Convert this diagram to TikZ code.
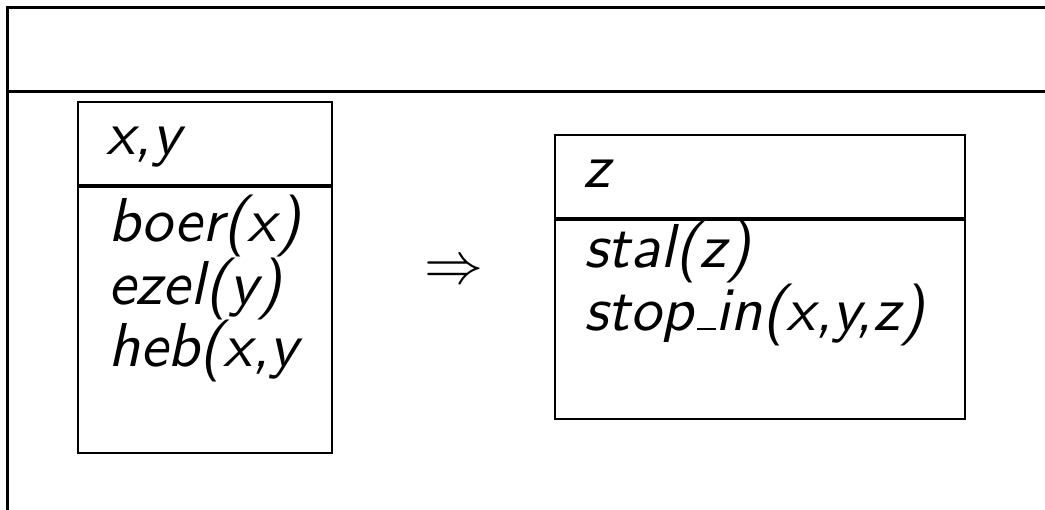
\documentclass[tikz,border=0pt]{standalone}
\usepackage{tikz}
\usetikzlibrary{positioning}
% thin low rule in place of the underscore glyph
\newcommand{\drsus}{\leavevmode\kern.06em\vbox{\hrule width.3em}}
\tikzset{
  drs frame/.style={line width=3pt},
  drs box/.style={
    draw,
    line width=2pt,
    inner sep=0pt,
    anchor=north west
  },
  drs text/.style={
    font=\sffamily\itshape,
    scale=6.2,
    transform shape,
    anchor=base west,
    inner sep=0pt
  }
}

\begin{document}
\begin{tikzpicture}[x=1pt,y=-1pt]
  \useasboundingbox (0,0) rectangle (1045,510);
  \clip (0,0) rectangle (1045,510);

  % Outer frame with its universe row
  \draw[drs frame] (7,8) rectangle (1080,540);
  \draw[drs frame] (7,92) -- (1080,92);

  % Antecedent box
  \node[drs box, minimum width=254pt, minimum height=83pt] (lhead) at (77,101) {};
  \node[drs box, minimum width=254pt, minimum height=266pt] (lbody) at (lhead.south west) {};
  \node[drs text] (lref) at (105,155) {x,y};
  \node[drs text] (boer) at (107,242) {boer(x)};
  \node[drs text] (ezel) at ([yshift=-62.5pt]boer.base west) {ezel(y)};
  \node[drs text] (heb) at ([yshift=-62.5pt]ezel.base west) {heb(x,y};

  % Implication
  \node[scale=5.9, inner sep=0pt] (impl) at (453.5,273) {$\Rightarrow$};

  % Consequent box
  \node[drs box, minimum width=410pt, minimum height=83pt] (rhead) at (554,134) {};
  \node[drs box, minimum width=410pt, minimum height=199pt] (rbody) at (rhead.south west) {};
  \node[drs text] (rref) at (582,188) {z};
  \node[drs text] (stal) at (583,268) {stal(z)};
  \node[drs text] (stopin) at ([yshift=-62.5pt]stal.base west) {stop\drsus in(x,y,z)};
\end{tikzpicture}
\end{document}
